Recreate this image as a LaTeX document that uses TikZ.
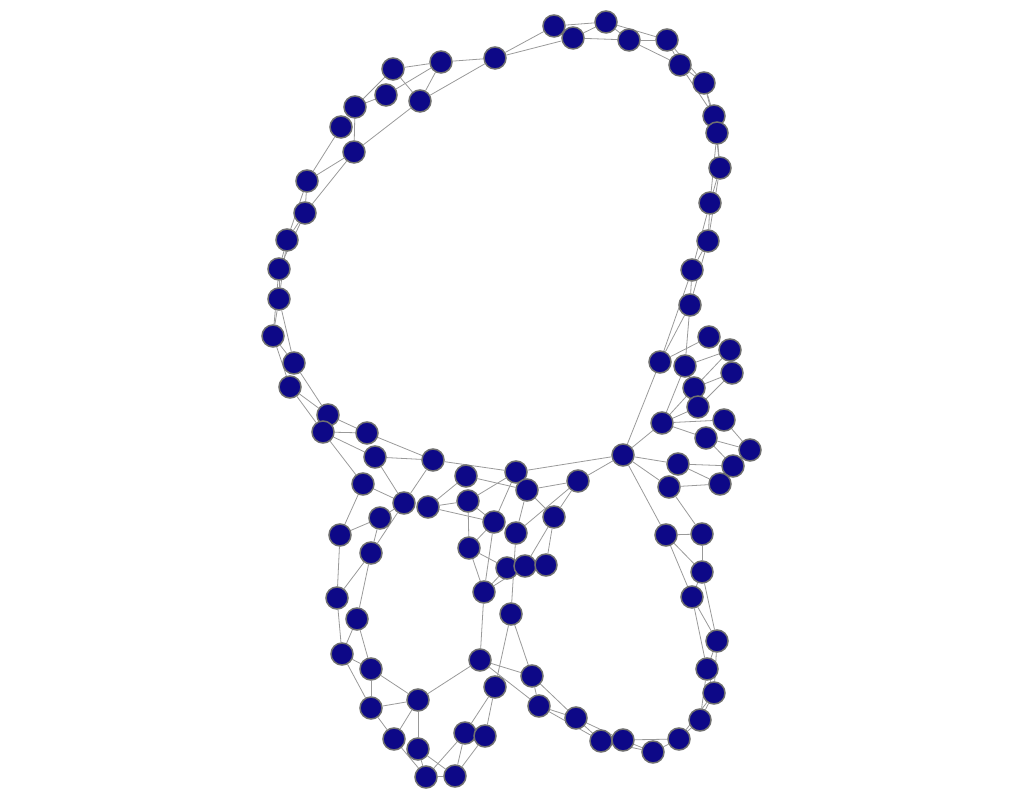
\documentclass[tikz,border=0pt]{standalone}
\usepackage{xcolor}
\definecolor{nodeblue}{HTML}{0D0887}
\definecolor{rimgray}{HTML}{707070}
\definecolor{edgegray}{HTML}{9A9A9A}
\usepackage{tikz}
\usetikzlibrary{backgrounds}

\begin{document}
\begin{tikzpicture}[x=0.1mm,y=-0.1mm,
  vertex/.style={circle,draw=rimgray,fill=nodeblue,line width=0.15mm,
                 minimum size=2.2mm,inner sep=0pt},
  link/.style={draw=edgegray,line width=0.08mm}]
  \useasboundingbox (0,0) rectangle (1024,800);
  \foreach \n/\x/\y in {
    a1/554/26, a2/573/38, a3/606/22, a4/629/40, a5/667/40, a6/680/65,
    a7/704/83, a8/714/116, a9/717/133, a10/720/168, a11/710/203,
    a12/708/241, a13/692/270, a14/690/305,
    b1/495/58, b2/441/62, b3/393/69, b4/386/95, b5/420/101, b6/355/107,
    b7/341/127, b8/354/152, b9/307/181, b10/305/213, b11/287/240,
    b12/279/269, b13/279/299, b14/273/336, b15/294/363, b16/290/387,
    b17/328/415, b18/323/432,
    c1/709/337, c2/730/350, c3/660/362, c4/685/366, c5/732/373,
    c6/694/388, c7/698/407, c8/662/423, c9/724/420, c10/706/438,
    c11/750/450, c12/623/455, c13/678/464, c14/733/466, c15/669/487,
    c16/720/484,
    d1/367/433, d2/375/457, d3/433/460, d4/363/484, d5/466/476,
    d6/516/472, d7/527/490, d8/578/481, d9/468/501, d10/404/503,
    d11/428/507, d12/380/518, d13/494/522, d14/554/517, d15/516/533,
    d16/340/535, d17/371/553, d18/469/548, d19/507/568, d20/525/566,
    d21/546/565, d22/484/592, d23/511/614,
    e1/337/598, e2/357/619, e3/342/654, e4/371/669, e5/418/700,
    e6/371/708, e7/394/739, e8/418/749, e9/426/777, e10/455/776,
    e11/465/733, e12/485/736, e13/480/660, e14/495/687,
    f1/532/676, f2/539/706, f3/576/718, f4/601/741, f5/623/740,
    f6/653/752, f7/679/739, f8/700/720, f9/714/693, f10/707/669,
    f11/717/641, f12/692/597, f13/702/572, f14/666/535, f15/702/534}
    \node[vertex] (\n) at (\x,\y) {};
  \begin{pgfonlayer}{background}
  \foreach \u/\v in {
    a1/a2, a1/a3, a2/a3, a2/a4, a3/a4, a3/a5, a4/a5, a4/a6, a5/a6, a5/a7,
    a6/a7, a6/a8, a7/a8, a7/a9, a8/a9, a8/a10, a9/a10, a9/a11, a10/a11,
    a10/a12, a11/a12, a11/a13, a12/a13, a12/a14, a13/a14, a13/c3, a14/c3,
    a14/c4, b1/a1, b1/a2,
    b1/b2, b1/b5, b2/b3, b2/b4, b2/b5, b3/b5, b3/b6, b4/b6, b6/b7, b6/b8,
    b5/b8, b7/b9, b8/b9, b8/b10, b9/b10, b9/b11, b10/b11, b10/b12,
    b11/b12, b11/b13, b12/b13, b12/b14, b13/b14, b13/b15, b14/b15,
    b14/b16, b15/b17, b16/b17, b16/b18, b17/d1, b18/d1, b18/d2, b18/d4,
    c1/c3, c2/c4, c2/c5, c2/c6, c5/c6, c5/c7, c3/c12, c4/c8, c6/c8,
    c7/c8, c8/c9, c8/c10, c9/c11, c10/c11, c10/c14, c12/c8, c12/c13,
    c12/c15, c13/c14, c13/c16, c15/c16, c12/d6, c12/d8, c12/f14, c15/f15,
    d1/d3, d2/d3, d2/d10, d3/d10, d3/d6, d4/d10, d4/d16, d12/d10,
    d16/d12, d12/d17, d10/d17, d11/d5, d11/d9, d11/d13, d9/d6, d9/d18,
    d13/d18, d13/d22, d18/d22, d16/e1, d17/e1, d17/e2, d5/d7, d6/d13,
    d7/d8, d7/d14, d8/d14, d8/d15, d7/d15, d9/d13, d18/d19, d15/d23,
    d14/d20, d14/d21, d19/d22, d20/d22, d22/e13, d23/e14, d23/f1,
    e1/e3, e2/e3, e2/e4, e3/e4, e3/e6, e4/e5, e4/e6, e6/e5, e6/e7,
    e5/e7, e5/e8, e7/e9, e8/e9, e8/e10, e9/e10, e9/e11, e10/e11,
    e10/e12, e11/e14, e12/e14, e13/e5, e13/f1, e13/f2,
    f1/f2, f1/f3, f2/f3, f2/f4, f3/f4, f3/f5, f4/f5, f4/f6, f5/f6,
    f5/f7, f6/f7, f7/f8, f7/f9, f8/f9, f8/f10, f9/f10, f9/f11, f10/f11,
    f10/f12, f11/f12, f11/f13, f12/f13, f12/f14, f13/f14, f13/f15,
    f14/f15}
    \draw[link] (\u) -- (\v);
  \end{pgfonlayer}
\end{tikzpicture}
\end{document}
